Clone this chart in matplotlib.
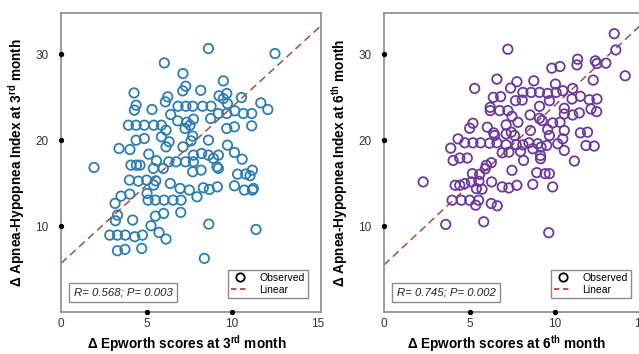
import matplotlib
matplotlib.use("Agg")
import matplotlib.pyplot as plt
from matplotlib.lines import Line2D

plt.rcParams['font.family'] = ['Liberation Sans', 'DejaVu Sans']
plt.rcParams['mathtext.fontset'] = 'custom'
plt.rcParams['mathtext.rm'] = 'Liberation Sans'
plt.rcParams['mathtext.bf'] = 'Liberation Sans:bold'
plt.rcParams['mathtext.it'] = 'Liberation Sans:italic'

# ---- data: 3rd month ----
x3 = [8.62, 12.51, 6.04, 7.13, 9.49, 7.29, 7.12, 8.17, 4.27, 9.69, 9.24, 9.49, 10.55, 6.24, 6.1,
      4.39, 4.29, 5.32, 6.84, 7.3, 7.7, 8.28, 8.77, 9.73, 9.2, 9.69, 10.16, 10.66, 11.15, 11.68,
      12.09, 6.41, 6.82, 7.35, 7.74, 7.25, 7.54, 8.75, 3.94, 4.39, 4.87, 5.42, 5.87, 6.14, 9.69,
      10.14, 11.15, 4.39, 4.87, 5.87, 6.32, 7.7, 7.6, 8.62, 6.14, 3.39, 4.03, 7.13, 9.73, 10.14,
      5.13, 7.74, 8.22, 8.62, 9.2, 8.91, 10.59, 5.58, 6.3, 6.73, 7.28, 7.74, 4.09, 4.41, 4.62,
      1.93, 5.4, 5.98, 9.12, 9.2, 8.19, 7.7, 11.19, 10.32, 10.8, 11.05, 4.0, 4.52, 5.01, 5.54,
      5.42, 6.39, 6.96, 7.5, 8.32, 8.67, 9.14, 10.14, 10.72, 11.19, 11.25, 4.02, 3.51, 5.03, 5.09,
      5.52, 6.02, 6.55, 7.02, 7.95, 3.16, 3.3, 5.52, 6.0, 7.0, 3.18, 4.19, 5.26, 8.64, 11.4,
      5.73, 2.85, 3.3, 3.76, 4.31, 4.76, 6.14, 3.3, 3.74, 4.72, 8.38]
y3 = [30.66, 30.08, 28.99, 27.75, 26.9, 26.28, 25.74, 25.8, 25.5, 25.43, 25.16, 24.84, 24.96, 25.04, 24.46,
      24.07, 23.49, 23.57, 23.95, 23.95, 23.95, 23.95, 23.95, 24.26, 23.1, 23.1, 23.41, 23.1, 23.1, 24.34,
      23.57, 22.98, 22.25, 22.09, 22.44, 21.36, 21.74, 22.52, 21.74, 21.74, 21.74, 21.74, 21.74, 21.16, 21.36,
      21.55, 21.67, 20.0, 20.19, 20.39, 19.81, 20.47, 19.92, 20.0, 19.22, 19.03, 18.91, 19.22, 19.42, 18.57,
      18.37, 18.26, 18.45, 18.26, 18.26, 17.87, 17.79, 17.6, 17.48, 17.48, 17.48, 17.48, 17.09, 17.09, 17.09,
      16.82, 16.71, 16.71, 16.9, 16.71, 16.51, 16.32, 16.51, 16.05, 16.05, 15.86, 15.35, 15.23, 15.35, 15.27,
      14.77, 14.96, 14.38, 14.19, 14.46, 14.26, 14.57, 14.69, 14.19, 14.19, 14.38, 13.72, 13.49, 13.8, 13.02,
      13.02, 13.02, 13.02, 13.02, 13.41, 12.64, 11.28, 11.16, 11.47, 11.59, 10.62, 10.7, 10.04, 10.23, 9.61,
      9.26, 8.95, 8.95, 8.95, 8.76, 8.95, 8.49, 7.13, 7.29, 7.4, 6.24]

# ---- data: 6th month ----
x6 = [13.46, 13.55, 7.24, 14.1, 11.32, 11.28, 12.35, 12.45, 12.97, 9.81, 10.29, 6.6, 8.76, 7.77, 12.23,
      5.3, 7.4, 10.02, 11.03, 6.39, 6.82, 8.12, 8.6, 9.09, 9.57, 10.06, 10.45, 8.08, 7.69, 10.99,
      11.48, 12.0, 12.45, 9.67, 6.21, 6.21, 6.76, 7.24, 9.09, 10.54, 10.54, 11.03, 11.42, 12.1, 12.43,
      7.48, 8.54, 9.09, 9.24, 9.86, 10.29, 5.2, 5.01, 6.04, 7.14, 7.83, 6.41, 6.47, 7.14, 7.44,
      7.63, 8.56, 9.57, 10.54, 9.67, 10.45, 10.16, 11.48, 11.9, 11.81, 12.29, 4.33, 4.72, 5.2, 5.65,
      6.17, 6.6, 7.14, 7.73, 8.12, 8.47, 8.99, 9.51, 8.7, 9.18, 6.91, 7.3, 7.98, 9.15, 9.15,
      10.54, 11.13, 3.9, 4.04, 4.43, 4.87, 8.16, 5.98, 6.27, 5.92, 5.17, 5.59, 7.48, 8.93, 9.42,
      9.67, 2.29, 4.16, 4.43, 4.72, 5.11, 5.55, 6.29, 5.4, 5.73, 6.91, 7.3, 7.77, 8.7, 9.86,
      3.98, 4.52, 5.01, 5.53, 5.36, 6.27, 6.62, 3.61, 5.83, 9.63]
y6 = [32.39, 30.5, 30.58, 27.49, 29.42, 28.76, 29.23, 28.92, 28.96, 28.38, 28.57, 27.1, 26.91, 26.8, 26.99,
      26.02, 26.06, 26.53, 26.02, 24.98, 25.06, 25.56, 25.56, 25.56, 25.44, 25.56, 25.75, 24.67, 24.59, 24.79,
      25.1, 24.71, 24.79, 24.59, 23.82, 23.44, 23.44, 23.44, 23.94, 23.71, 23.05, 22.93, 23.17, 23.63, 23.32,
      22.78, 22.93, 22.55, 22.28, 22.01, 22.08, 21.97, 21.39, 21.51, 21.78, 22.08, 20.85, 20.54, 20.73, 20.93,
      20.54, 21.12, 21.24, 21.12, 20.54, 20.15, 19.58, 20.85, 20.93, 19.38, 19.31, 20.15, 19.69, 19.69, 19.69,
      19.65, 19.69, 19.46, 19.46, 19.46, 19.69, 19.58, 19.38, 19.0, 19.19, 18.53, 18.61, 18.69, 18.22, 17.84,
      18.8, 17.57, 19.07, 17.64, 17.92, 17.92, 17.64, 17.07, 17.38, 16.67, 16.1, 16.02, 16.49, 16.22, 16.1,
      16.1, 15.14, 14.75, 14.75, 14.94, 15.14, 15.21, 15.14, 14.36, 14.29, 14.56, 14.44, 14.75, 14.86, 14.56,
      13.01, 13.01, 13.01, 13.01, 12.43, 12.63, 12.36, 10.19, 10.5, 9.23]

fit3 = (5.66, 1.82)   # intercept, slope
fit6 = (5.48, 1.86)
stats3 = "R= 0.568; P= 0.003"
stats6 = "R= 0.745; P= 0.002"
xticks = [0, 5, 10, 15]
dot_xticks = [5, 10]
yticks = [10, 20, 30]

W, H = 639, 354
fig = plt.figure(figsize=(W / 100, H / 100), dpi=100)

spine_col = '#8a8a8a'
line_col = '#b3493c'


def panel(left_px, xs, ys, fit, stats, color, xlab, ylab, xlab_x):
    ax = fig.add_axes([left_px / W, (H - 312) / H, 260 / W, 299 / H])
    ax.set_xlim(0, 15.2)
    ax.set_ylim(0, 34.8)
    ax.scatter(xs, ys, s=46, facecolors='none', edgecolors=color, linewidths=1.3, zorder=3)
    lx = [0, 15.2]
    ax.plot(lx, [fit[0] + fit[1] * v for v in lx], color=line_col, lw=1.1,
            dashes=(5, 3), zorder=2)
    for s in ax.spines.values():
        s.set_color(spine_col)
        s.set_linewidth(1.2)
    ax.set_xticks(xticks)
    ax.set_yticks(yticks)
    ax.tick_params(length=0, labelsize=8.5, labelcolor='#333333')
    ax.tick_params(axis='y', pad=9)
    ax.tick_params(axis='x', pad=4)
    ax.scatter(dot_xticks, [0] * len(dot_xticks), s=8, color='black', clip_on=False, zorder=5)
    ax.scatter([0] * len(yticks), yticks, s=8, color='black', clip_on=False, zorder=5)
    ax.set_xlabel(xlab, fontsize=9.8, fontweight='bold')
    ax.set_ylabel(ylab, fontsize=9.8, fontweight='bold')
    ax.xaxis.set_label_coords(xlab_x, -0.072)
    ax.yaxis.set_label_coords(-0.13, 0.5)
    ax.text(0.24, 0.064, stats, transform=ax.transAxes, fontsize=8.2, style='italic',
            color='#222222', ha='center', va='center',
            bbox=dict(boxstyle='square,pad=0.4', facecolor='white', edgecolor=spine_col, lw=1))
    handles = [Line2D([], [], marker='o', ls='none', mfc='none', mec='black', mew=1.3, ms=6),
               Line2D([], [], color=line_col, lw=1.3, dashes=(3, 2))]
    leg = ax.legend(handles, ['Observed', 'Linear'], loc='lower right', fontsize=7.5,
                    frameon=True, fancybox=False, framealpha=1, edgecolor=spine_col,
                    borderpad=0.3, handlelength=1.6, handletextpad=1.1, labelspacing=0.15,
                    bbox_to_anchor=(0.97, 0.03))
    leg.get_frame().set_linewidth(1)
    return ax


panel(61, x3, y3, fit3, stats3, '#2d7db3',
      r'Δ Epworth scores at 3$^{\mathbf{rd}}$ month',
      r'Δ Apnea-Hypopnea Index at 3$^{\mathbf{rd}}$ month', 0.485)
panel(384, x6, y6, fit6, stats6, '#6a3a9c',
      r'Δ Epworth scores at 6$^{\mathbf{th}}$ month',
      r'Δ Apnea-Hypopnea Index at 6$^{\mathbf{th}}$ month', 0.473)

fig.savefig('out.png', dpi=100)
